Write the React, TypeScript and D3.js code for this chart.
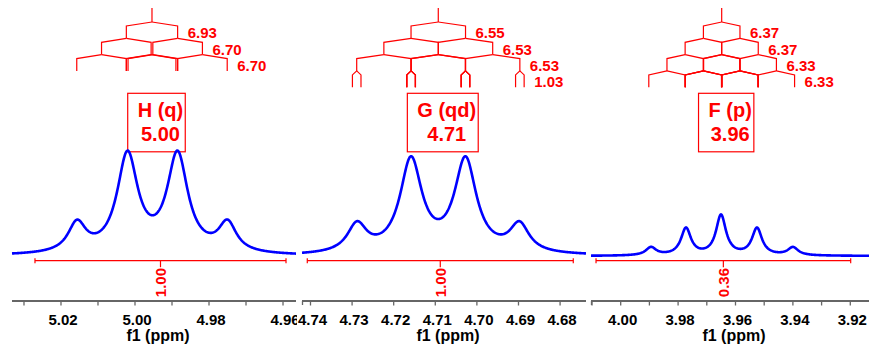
import React from "react";
import * as d3 from "d3";

const W = 869;
const H = 345;
const MHZ = 500;

// ---- data ----
const multipletLabels = ["H (q)", "G (qd)", "F (p)"];
const shiftLabels = ["5.00", "4.71", "3.96"];
const multipletCenters = [4.99541, 4.70928, 3.96481];
const couplingsH = [6.93, 6.7, 6.7];
const couplingsG = [6.55, 6.53, 6.53, 1.03];
const couplingsF = [6.37, 6.37, 6.33, 6.33];

const peakPpmH = [5.01568, 5.00203, 4.98851, 4.975];
const peakHeightH = [29, 98, 98, 29];
const peakWidthH = [0.0029, 0.0034, 0.0034, 0.0029];
const peakPpmG = [4.72882, 4.71584, 4.70274, 4.68976];
const peakHeightG = [28, 93, 93, 28];
const peakWidthG = [0.0028, 0.0032, 0.0032, 0.0028];
const peakPpmF = [3.98944, 3.97725, 3.96505, 3.95251, 3.93997];
const peakHeightF = [8, 27, 40, 27, 8];
const peakWidthF = [0.0022, 0.0021, 0.0021, 0.0021, 0.0022];

const integralValues = ["1.00", "1.00", "0.36"];
const integralH = [5.02703, 4.95919];
const integralG = [4.74077, 4.67683];
const integralF = [4.0086, 3.91986];

const domainH = [5.03324, 4.95649];
const domainG = [4.74204, 4.67377];
const domainF = [4.01035, 3.91348];

const majorTicksH = [5.02, 5.0, 4.98, 4.96];
const minorTicksH = [5.03, 5.01, 4.99, 4.97];
const majorTicksG = [4.74, 4.73, 4.72, 4.71, 4.7, 4.69, 4.68];
const minorTicksG: number[] = [];
const majorTicksF = [4.0, 3.98, 3.96, 3.94, 3.92];
const minorTicksF = [4.01, 3.99, 3.97, 3.95, 3.93];

// ---- layout ----
const FONT = "'Liberation Sans', Arial, sans-serif";
const RED = "#ff0000";
const panelRanges = [
  [12, 296],
  [302, 586],
  [591, 869],
];
const axisY = 301;
const baseY = 256;

const panels = [
  {
    domain: domainH, peaks: peakPpmH, heights: peakHeightH, widths: peakWidthH, J: couplingsH,
    integral: integralH, major: majorTicksH, minor: minorTicksH, outerTick: false, clipLabels: true,
  },
  {
    domain: domainG, peaks: peakPpmG, heights: peakHeightG, widths: peakWidthG, J: couplingsG,
    integral: integralG, major: majorTicksG, minor: minorTicksG, outerTick: true, clipLabels: false,
  },
  {
    domain: domainF, peaks: peakPpmF, heights: peakHeightF, widths: peakWidthF, J: couplingsF,
    integral: integralF, major: majorTicksF, minor: minorTicksF, outerTick: true, clipLabels: false,
  },
];

const yScale = d3.scaleLinear().domain([0, 120]).range([baseY, baseY - 120]);

const charW: Record<string, number> = {
  H: 0.722, G: 0.778, F: 0.611, " ": 0.278, "(": 0.333, ")": 0.333, q: 0.611, d: 0.611, p: 0.611,
};

function Panel({ idx }: { idx: number }) {
  const p = panels[idx];
  const [x0, x1] = panelRanges[idx];
  const x = d3.scaleLinear().domain(p.domain).range([x0, x1]);

  // spectrum (sum of Lorentzian lines at the read peak positions)
  const pts: [number, number][] = [];
  for (let px = x0; px <= x1; px += 0.5) {
    const ppm = x.invert(px);
    let s = 0;
    p.peaks.forEach((c, i) => {
      const d = (ppm - c) / p.widths[i];
      s += p.heights[i] / (1 + d * d);
    });
    pts.push([px, yScale(s)]);
  }
  const line = d3.line()(pts) || "";

  // splitting tree
  const center = multipletCenters[idx];
  const treeTop = 8;
  const y0 = 22;
  const lvl = 16.3;
  const slant = 4;
  let parents = [center];
  const treePaths: string[] = [`M${x(center)},${treeTop}L${x(center)},${y0}`];
  const jLabels: { x: number; y: number; t: string }[] = [];
  p.J.forEach((J, i) => {
    const yt = y0 + i * lvl;
    const children: number[] = [];
    parents.forEach((pp) => {
      const c1 = pp + J / 2 / MHZ;
      const c2 = pp - J / 2 / MHZ;
      [c1, c2].forEach((c) => {
        treePaths.push(`M${x(pp)},${yt}L${x(c)},${yt + slant}L${x(c)},${yt + lvl}`);
        children.push(c);
      });
    });
    const maxX = d3.max(children, (c) => x(c)) as number;
    jLabels.push({ x: maxX + 10, y: yt + lvl, t: J.toFixed(2) });
    parents = children;
  });

  const cx = x(center);
  const labelText = multipletLabels[idx];
  const textW = labelText.split("").reduce((a, ch) => a + (charW[ch] ?? 0.6), 0) * 20;
  const boxW = textW + 12;
  const boxCx = cx + 4.5;

  const [ia, ib] = p.integral;
  const iax = x(ia);
  const ibx = x(ib);
  const imx = (iax + ibx) / 2;
  const iy = 260.7;

  return (
    <g>
      <defs>
        <clipPath id={`clip${idx}`}>
          <rect x={0} y={0} width={297} height={H} />
        </clipPath>
      </defs>
      {/* tree */}
      <g stroke={RED} strokeWidth={1.2} fill="none">
        {treePaths.map((d, i) => (
          <path key={i} d={d} />
        ))}
      </g>
      {jLabels.map((l, i) => (
        <text key={i} x={l.x} y={l.y} fill={RED} fontFamily={FONT} fontWeight="bold" fontSize={15}>
          {l.t}
        </text>
      ))}
      {/* label box */}
      <rect x={boxCx - boxW / 2} y={93.3} width={boxW} height={58.5} fill="none" stroke={RED} strokeWidth={1.2} />
      <text x={boxCx + 4} y={117} textAnchor="middle" fill={RED} fontFamily={FONT} fontWeight="bold" fontSize={20}>
        {labelText}
      </text>
      <text x={boxCx + 4} y={141} textAnchor="middle" fill={RED} fontFamily={FONT} fontWeight="bold" fontSize={20}>
        {shiftLabels[idx]}
      </text>
      {/* spectrum */}
      <path d={line} fill="none" stroke="#0000ff" strokeWidth={2.6} strokeLinejoin="round" />
      {/* integral */}
      <g stroke={RED} strokeWidth={1.2} fill="none">
        <path d={`M${iax},${iy}L${ibx},${iy}`} />
        <path d={`M${iax},${iy - 2.5}L${iax},${iy + 2.5}`} />
        <path d={`M${ibx},${iy - 2.5}L${ibx},${iy + 2.5}`} />
        <path d={`M${imx},${iy}L${imx},${iy + 6.5}`} />
      </g>
      <text
        transform={`translate(${imx},268) rotate(-90)`}
        textAnchor="end"
        dy="0.36em"
        fill={RED}
        fontFamily={FONT}
        fontWeight="bold"
        fontSize={15}
      >
        {integralValues[idx]}
      </text>
      {/* axis */}
      <g stroke="#666666" fill="none">
        <path d={`M${x0},${axisY}L${x1},${axisY}`} strokeWidth={1.8} />
        {p.outerTick && <path d={`M${x0 + 0.5},${axisY}L${x0 + 0.5},${axisY + 4}`} strokeWidth={1.3} />}
        {p.major.concat(p.minor).map((t, i) => (
          <path key={i} d={`M${x(t)},${axisY}L${x(t)},${axisY + 4.5}`} strokeWidth={1.3} />
        ))}
      </g>
      <g clipPath={p.clipLabels ? `url(#clip${idx})` : undefined}>
        {p.major.map((t, i) => (
          <text key={i} x={x(t) + 2} y={324.5} textAnchor="middle" fill="#000" fontFamily={FONT} fontWeight="bold" fontSize={15}>
            {t.toFixed(2)}
          </text>
        ))}
      </g>
      <text x={(x0 + x1) / 2 + 4} y={340.5} textAnchor="middle" fill="#000" fontFamily={FONT} fontWeight="bold" fontSize={16}>
        f1 (ppm)
      </text>
    </g>
  );
}

export default function App() {
  return (
    <svg width={W} height={H} style={{ position: "absolute", left: 0, top: 0, background: "#fff" }}>
      <rect width={W} height={H} fill="#fff" />
      {[0, 1, 2].map((i) => (
        <Panel key={i} idx={i} />
      ))}
    </svg>
  );
}
